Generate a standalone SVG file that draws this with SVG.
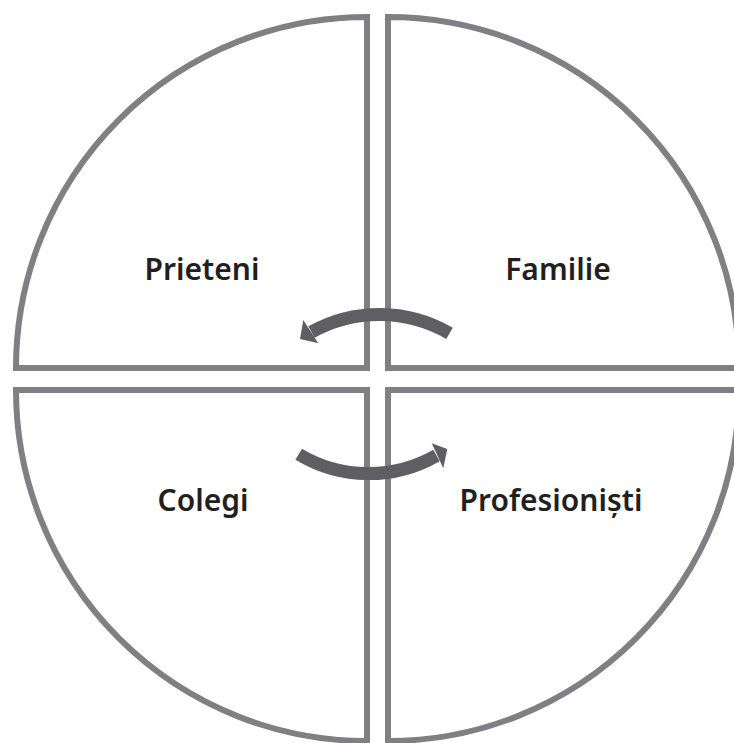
<svg xmlns="http://www.w3.org/2000/svg" width="734" height="743" viewBox="0 0 734 743">
<style>
.q{fill:#ffffff;stroke:#808084;stroke-width:6;stroke-linejoin:miter}
.lbl{font-family:"Noto Sans","Open Sans","DejaVu Sans",sans-serif;font-weight:600;font-size:30px;fill:#231f20;text-anchor:middle}
.arr{fill:none;stroke:#5f5f63;stroke-width:13}
.head{fill:#5f5f63}
</style>
<rect width="734" height="743" fill="#ffffff"/>
<g id="prieteni">
<path class="q" d="M367,368 L367,17 A351,351 0 0 0 16,368 Z"/>
<text class="lbl" x="202" y="280">Prieteni</text>
</g>
<g id="familie">
<path class="q" d="M388,368 L388,17 A351,351 0 0 1 739,368 Z"/>
<text class="lbl" x="558" y="280">Familie</text>
</g>
<g id="colegi">
<path class="q" d="M367,390 L16,390 A351,351 0 0 0 367,741 Z"/>
<text class="lbl" x="203" y="511">Colegi</text>
</g>
<g id="profesionisti">
<path class="q" d="M388,390 L739,390 A351,351 0 0 1 388,741 Z"/>
<text class="lbl" x="551" y="511">Profesioniști</text>
</g>
<g id="connectors">
<path class="arr" d="M449.5,333.3 A140,140 0 0 0 311.5,332"/>
<polygon class="head" points="303.3,320 318.3,343.3 300,339"/>
<path class="arr" d="M298.7,454.2 A136,136 0 0 0 436.5,455.5"/>
<polygon class="head" points="431.7,443.3 443.3,468.3 447.3,449"/>
</g>
</svg>
